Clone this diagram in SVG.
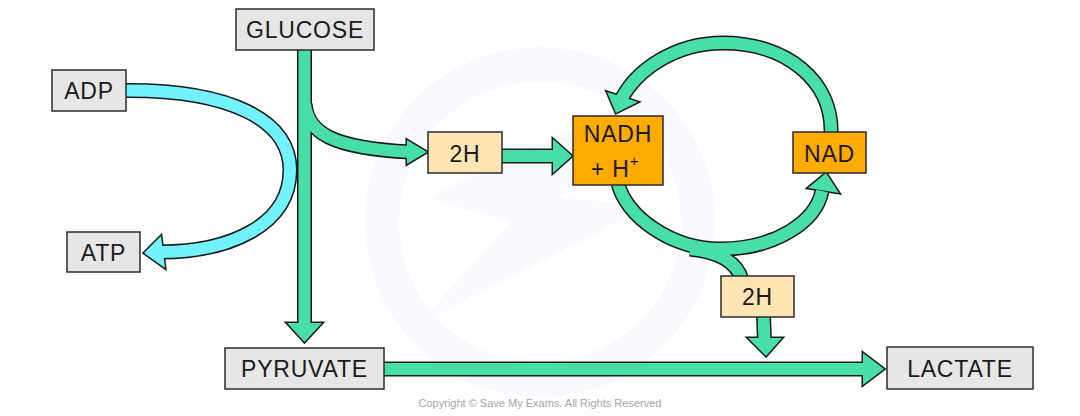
<svg xmlns="http://www.w3.org/2000/svg" xmlns:xlink="http://www.w3.org/1999/xlink" width="1080" height="416" viewBox="0 0 1080 416">
<style>
.box{stroke:#2b2b2b;stroke-width:1.5}
.grey{fill:#e6e6e6}
.peach{fill:#ffe4b4}
.orange{fill:#ffab00}
.lbl{font-family:"Liberation Sans",Arial,sans-serif;font-size:23px;fill:#1a1a1a;text-anchor:middle;letter-spacing:0.8px}
.g-out{fill:none;stroke:#1a1a1a;stroke-width:15;stroke-linecap:butt}
.g-in{fill:none;stroke:#48dfa6;stroke-width:12;stroke-linecap:butt}
.gh-out{fill:#1a1a1a;stroke:#1a1a1a;stroke-width:3;stroke-linejoin:miter}
.gh-in{fill:#48dfa6;stroke:none}
.b-out{fill:none;stroke:#1a1a1a;stroke-width:15}
.b-in{fill:none;stroke:#72f2ff;stroke-width:12}
.bh-out{fill:#1a1a1a;stroke:#1a1a1a;stroke-width:3}
.bh-in{fill:#72f2ff;stroke:none}
.wm{fill:none;stroke:#f7f9fc;stroke-width:34}
</style>
<defs>
<path id="stem" d="M304.5,50 L304.5,326"/>
<polygon id="stemH" points="287,323 322,323 304.5,342"/>
<path id="branch" d="M305,104 C308,132 330,148 410,152"/>
<polygon id="branchH" points="407,140 427,152 407,164"/>
<path id="h2n" d="M502,156 L556,156"/>
<polygon id="h2nH" points="553,139 572,156 553,173"/>
<path id="topArc" d="M831,136 C834,80 785,43 723,43 C675,43 636,70 621,100"/>
<polygon id="topArcH" points="607,92 616,113 638,102"/>
<path id="botArc" d="M618,183 C625,215 670,249 720,249 C775,249 816,222 822,191"/>
<polygon id="botArcH" points="808,188 826,173 839,193"/>
<path id="botBranch" d="M690,249 C720,252 737,262 742,280"/>
<path id="down2" d="M763.5,316 L764.5,341"/>
<polygon id="down2H" points="748,338 782,338 766,356"/>
<path id="pyr" d="M384,369 L867,369"/>
<polygon id="pyrH" points="863,353 884,369 863,385"/>
<path id="blue" d="M126,90.5 C230,90 290,120 290,170 C290,225 230,252 160,252"/>
<polygon id="blueH" points="161,236 144,253 165,268"/>
</defs>
<rect width="1080" height="416" fill="#ffffff"/>
<g id="watermark">
<circle class="wm" cx="540" cy="222" r="158"/>
<polygon points="655,90 560,198 650,205 418,325 510,222 428,198" fill="#f8fafd"/>
</g>
<g id="connectors">
<g id="atp-cycle">
<use xlink:href="#blue" class="b-out"/>
<use xlink:href="#blueH" class="bh-out"/>
<use xlink:href="#blue" class="b-in"/>
<use xlink:href="#blueH" class="bh-in"/>
</g>
<g id="green-outline">
<use xlink:href="#stem" class="g-out"/>
<use xlink:href="#stemH" class="gh-out"/>
<use xlink:href="#branch" class="g-out"/>
<use xlink:href="#branchH" class="gh-out"/>
<use xlink:href="#h2n" class="g-out"/>
<use xlink:href="#h2nH" class="gh-out"/>
<use xlink:href="#topArc" class="g-out"/>
<use xlink:href="#topArcH" class="gh-out"/>
<use xlink:href="#botArc" class="g-out"/>
<use xlink:href="#botArcH" class="gh-out"/>
<use xlink:href="#botBranch" class="g-out"/>
<use xlink:href="#down2" class="g-out"/>
<use xlink:href="#down2H" class="gh-out"/>
<use xlink:href="#pyr" class="g-out"/>
<use xlink:href="#pyrH" class="gh-out"/>
</g>
<g id="green-fill">
<use xlink:href="#stem" class="g-in"/>
<use xlink:href="#stemH" class="gh-in"/>
<use xlink:href="#branch" class="g-in"/>
<use xlink:href="#branchH" class="gh-in"/>
<use xlink:href="#h2n" class="g-in"/>
<use xlink:href="#h2nH" class="gh-in"/>
<use xlink:href="#topArc" class="g-in"/>
<use xlink:href="#topArcH" class="gh-in"/>
<use xlink:href="#botArc" class="g-in"/>
<use xlink:href="#botArcH" class="gh-in"/>
<use xlink:href="#botBranch" class="g-in"/>
<use xlink:href="#down2" class="g-in"/>
<use xlink:href="#down2H" class="gh-in"/>
<use xlink:href="#pyr" class="g-in"/>
<use xlink:href="#pyrH" class="gh-in"/>
</g>
</g>
<g id="glucose"><rect class="box grey" x="236" y="9" width="138" height="41"/><text class="lbl" x="305" y="38">GLUCOSE</text></g>
<g id="adp"><rect class="box grey" x="52" y="70" width="74" height="41"/><text class="lbl" x="89" y="99">ADP</text></g>
<g id="atp"><rect class="box grey" x="67" y="232" width="73" height="40"/><text class="lbl" x="103.5" y="261">ATP</text></g>
<g id="h2-a"><rect class="box peach" x="428" y="132" width="74" height="41"/><text class="lbl" x="465" y="162">2H</text></g>
<g id="nadh"><rect class="box orange" x="573" y="116" width="90" height="69"/><text class="lbl" x="618" y="142">NADH</text><text class="lbl" x="615" y="177">+ H<tspan dy="-11" font-size="15">+</tspan></text></g>
<g id="nad"><rect class="box orange" x="793" y="132" width="73" height="41"/><text class="lbl" x="829.5" y="162">NAD</text></g>
<g id="h2-b"><rect class="box peach" x="721" y="276" width="73" height="41"/><text class="lbl" x="757.5" y="305">2H</text></g>
<g id="pyruvate"><rect class="box grey" x="225" y="348" width="159" height="41"/><text class="lbl" x="304.5" y="377">PYRUVATE</text></g>
<g id="lactate"><rect class="box grey" x="887" y="347" width="146" height="42"/><text class="lbl" x="960" y="377">LACTATE</text></g>
<text x="540" y="407" font-family="Liberation Sans,Arial,sans-serif" font-size="11" fill="#a6a6a6" text-anchor="middle">Copyright © Save My Exams. All Rights Reserved</text>
</svg>
